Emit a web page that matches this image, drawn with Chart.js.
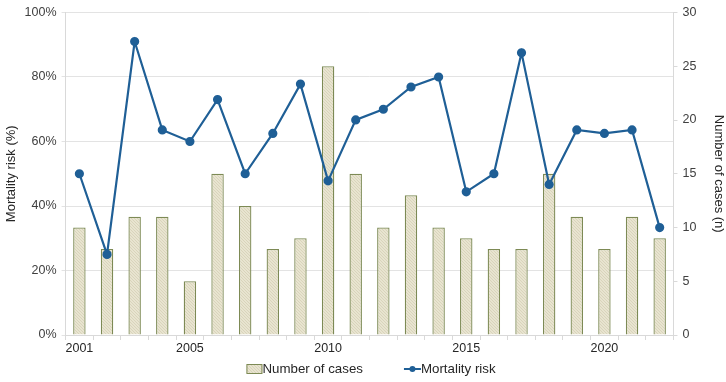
<!DOCTYPE html>
<html><head><meta charset="utf-8">
<script src="https://cdn.jsdelivr.net/npm/chart.js@4"></script>
<style>html,body{margin:0;padding:0;background:#fff}#wrap{width:726px;height:382px}</style>
</head><body><div id="wrap"><canvas id="c" width="726" height="382"></canvas></div>
<script>
const years = ['2001','2002','2003','2004','2005','2006','2007','2008','2009','2010','2011','2012','2013','2014','2015','2016','2017','2018','2019','2020','2021','2022'];
const shownYears = ['2001','2005','2010','2015','2020'];
const cases = [10,8,11,11,5,15,12,8,9,25,15,10,13,10,9,8,8,15,11,8,11,9];
const mortality = [50,25,91,63.6,60,73,50,62.5,77.8,47.8,66.7,70,76.9,80,44.4,50,87.5,46.7,63.6,62.5,63.6,33.3];

const lineColor = '#1f5f96';
const barBorder = '#7d8a55';

function makePattern(){
  const p = document.createElement('canvas'); p.width = 3; p.height = 3;
  const g = p.getContext('2d');
  g.fillStyle = '#e8e4d0'; g.fillRect(0,0,3,3);
  g.fillStyle = '#d9d4bb';
  g.fillRect(0,0,1,1); g.fillRect(1,1,1,1); g.fillRect(2,2,1,1);
  return document.getElementById('c').getContext('2d').createPattern(p,'repeat');
}
const pattern = makePattern();

const legendPlugin = {
  id: 'customLegend',
  afterDraw(chart) {
    const ctx = chart.ctx;
    const y = chart.height - 13;
    ctx.save();
    ctx.font = '13.3px "Liberation Sans", Arial, sans-serif';
    ctx.textBaseline = 'middle';
    const t1 = 'Number of cases', t2 = 'Mortality risk';
    const w1 = ctx.measureText(t1).width, w2 = ctx.measureText(t2).width;
    const box = 16, iconW = 17, gap = 41;
    const total = box + w1 + gap + iconW + w2;
    let x = chart.width / 2 + 8 - total / 2;
    ctx.fillStyle = pattern; ctx.fillRect(x, y - 4.5, box, 9);
    ctx.strokeStyle = barBorder; ctx.lineWidth = 1; ctx.strokeRect(x + 0.5, y - 4.5, box - 1, 9);
    x += box;
    ctx.fillStyle = '#262626'; ctx.fillText(t1, x, y + 0.5);
    x += w1 + gap;
    ctx.strokeStyle = lineColor; ctx.lineWidth = 2;
    ctx.beginPath(); ctx.moveTo(x, y); ctx.lineTo(x + iconW, y); ctx.stroke();
    ctx.fillStyle = lineColor; ctx.beginPath(); ctx.arc(x + iconW / 2, y, 3, 0, Math.PI * 2); ctx.fill();
    x += iconW;
    ctx.fillStyle = '#262626'; ctx.fillText(t2, x, y + 0.5);
    ctx.restore();
  }
};

Chart.defaults.font.family = '"Liberation Sans", Arial, sans-serif';
Chart.defaults.color = '#404040';

new Chart(document.getElementById('c'), {
  data: {
    labels: years,
    datasets: [
      {
        type: 'line', label: 'Mortality risk', data: mortality, yAxisID: 'y',
        borderColor: lineColor, backgroundColor: lineColor, borderWidth: 2.2,
        pointRadius: 3.5, pointHoverRadius: 3.5, tension: 0, order: 0
      },
      {
        type: 'bar', label: 'Number of cases', data: cases, yAxisID: 'y1',
        backgroundColor: pattern, borderColor: barBorder, borderWidth: 1.3,
        barPercentage: 0.45, categoryPercentage: 1, order: 1
      }
    ]
  },
  plugins: [legendPlugin],
  options: {
    responsive: false, animation: false,
    layout: { padding: { left: 3, right: 0, top: 2, bottom: 25 } },
    plugins: { tooltip: { enabled: false }, legend: { display: false } },
    scales: {
      x: {
        offset: true,
        grid: { display: true, drawOnChartArea: false, offset: true, tickLength: 5, color: '#d9d9d9' },
        border: { color: '#d9d9d9' },
        ticks: { autoSkip: false, maxRotation: 0, font: { size: 12.5 }, color: '#262626', padding: 1,
          callback: function(v){ const l = this.getLabelForValue(v); return shownYears.includes(l) ? l : ''; } }
      },
      y: {
        position: 'left', min: 0, max: 100,
        ticks: { stepSize: 20, font: { size: 12.5 }, color: '#404040', callback: v => v + '%', padding: 5 },
        grid: { color: '#e3e3e3', tickLength: 4 },
        border: { color: '#d9d9d9' },
        title: { display: true, text: 'Mortality risk (%)', font: { size: 13 }, color: '#262626', padding: { top: 1, bottom: 0 } }
      },
      y1: {
        position: 'right', min: 0, max: 30,
        ticks: { stepSize: 5, font: { size: 12.5 }, color: '#404040', padding: 5 },
        grid: { drawOnChartArea: false, color: '#d9d9d9', tickLength: 4 },
        border: { color: '#d9d9d9' },
        title: { display: true, text: 'Number of cases (n)', font: { size: 13 }, color: '#262626', padding: { top: 0, bottom: 9 } }
      }
    }
  }
});
</script></body></html>
